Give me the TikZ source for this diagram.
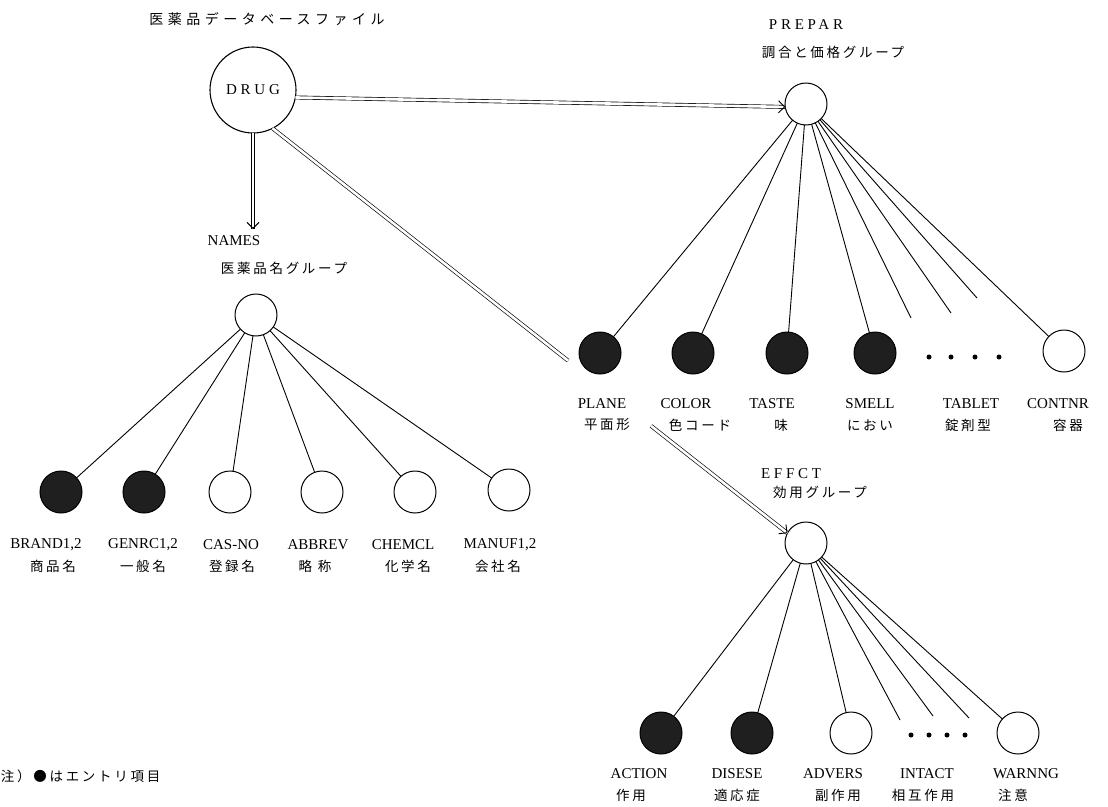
\documentclass[tikz,border=0pt]{standalone}
\usepackage{fontspec}
\setmainfont{Liberation Serif}
\newfontfamily\jpfont{Noto Sans CJK JP}
\usetikzlibrary{arrows.meta,calc}
\begin{document}
\begin{tikzpicture}[x=1pt,y=-1pt,
 every node/.style={inner sep=0pt, outer sep=0pt},
 bigc/.style={circle, draw, line width=1.1pt, minimum size=86pt},
 oc/.style={circle, draw, line width=1pt, minimum size=42pt},
 fc/.style={oc, fill=black!88},
 dotn/.style={circle, fill=black, minimum size=5pt},
 lat/.style={font=\fontsize{15}{15}\selectfont},
 spaced/.style={font=\fontsize{15}{15}\selectfont\addfontfeature{LetterSpace=25}},
 jpn/.style={font=\jpfont\fontsize{13.5}{13.5}\selectfont\addfontfeature{LetterSpace=20}},
 jpwide/.style={font=\jpfont\fontsize{14}{14}\selectfont\addfontfeature{LetterSpace=32}},
 ln/.style={line width=0.9pt},
 dbl/.style={double, double distance=2.6pt, line width=0.65pt},
 tip/.style={line width=0.9pt, -{Straight Barb[length=6pt,width=12pt]}}
]
\useasboundingbox (0,0) rectangle (1108,806);

% top level
\node[jpwide] (title) at (267,19) {医薬品データベースファイル};
\node[bigc, spaced] (DRUG) at (253,90) {DRUG};

% PREPAR group
\node[spaced] (prepT) at (806,25) {PREPAR};
\node[jpn] (prepJ) at (833,52) {調合と価格グループ};
\node[oc] (PREPAR) at (806,104) {};

% NAMES group
\node[lat] (namesT) at (234,241) {NAMES};
\node[jpn] (namesJ) at (284,268) {医薬品名グループ};
\node[oc] (NAMES) at (256,315) {};

% EFFCT group
\node[spaced] (effT) at (791,474) {EFFCT};
\node[jpn] (effJ) at (820,492) {効用グループ};
\node[oc] (EFFCT) at (806,543) {};

% NAMES children
\node[fc] (BRAND) at (61,492) {};
\node[fc] (GENRC) at (144,492) {};
\node[oc] (CAS) at (230,492) {};
\node[oc] (ABBREV) at (322,492) {};
\node[oc] (CHEMCL) at (415,492) {};
\node[oc] (MANUF) at (509,490) {};
\foreach \n/\x/\t in {BRAND/46/BRAND1{,}2, GENRC/143/GENRC1{,}2, CAS/231/CAS-NO, ABBREV/318/ABBREV, CHEMCL/403/CHEMCL, MANUF/500/MANUF1{,}2}
  \node[lat] (\n T) at (\x,545) {\t};
\foreach \n/\x/\t in {BRAND/53/商品名, GENRC/143/一般名, CAS/232/登録名, ABBREV/315/略\ 称, CHEMCL/408/化学名, MANUF/498/会社名}
  \node[jpn] (\n J) at (\x,566) {\t};
\foreach \n in {BRAND,GENRC,CAS,ABBREV,CHEMCL,MANUF}
  \draw[ln] (NAMES) -- (\n);

% PREPAR children
\node[fc] (PLANE) at (600,353) {};
\node[fc] (COLOR) at (693,353) {};
\node[fc] (TASTE) at (787,353) {};
\node[fc] (SMELL) at (875,353) {};
\node[oc] (CONTNR) at (1064,351) {};
\node[dotn] (pd1) at (929,357) {};
\node[dotn] (pd2) at (951,357) {};
\node[dotn] (pd3) at (975,357) {};
\node[dotn] (pd4) at (999,357) {};
\foreach \n/\x/\t in {PLANE/602/PLANE, COLOR/686/COLOR, TASTE/772/TASTE, SMELL/870/SMELL, TABLET/971/TABLET, CONTNR/1058/CONTNR}
  \node[lat] (\n T) at (\x,404) {\t};
\foreach \n/\x/\t in {PLANE/607/平面形, COLOR/700/色コード, TASTE/781/味, SMELL/870/におい, TABLET/968/錠剤型, CONTNR/1068/容器}
  \node[jpn] (\n J) at (\x,425) {\t};
\foreach \n in {PLANE,COLOR,TASTE,SMELL,CONTNR}
  \draw[ln] (PREPAR) -- (\n);
\coordinate (pe1) at (911,318);
\coordinate (pe2) at (951,313);
\coordinate (pe3) at (977,298);
\foreach \c in {pe1,pe2,pe3}
  \draw[ln] (PREPAR) -- (\c);

% EFFCT children
\node[fc] (ACTION) at (661,733) {};
\node[fc] (DISESE) at (752,733) {};
\node[oc] (ADVERS) at (851,733) {};
\node[oc] (WARNNG) at (1018,733) {};
\node[dotn] (ed1) at (911,735) {};
\node[dotn] (ed2) at (929,735) {};
\node[dotn] (ed3) at (947,735) {};
\node[dotn] (ed4) at (965,735) {};
\foreach \n/\x/\t in {ACTION/639/ACTION, DISESE/737/DISESE, ADVERS/833/ADVERS, INTACT/927/INTACT, WARNNG/1026/WARNNG}
  \node[lat] (\n T) at (\x,774) {\t};
\foreach \n/\x/\t in {ACTION/631/作用, DISESE/737/適応症, ADVERS/838/副作用, INTACT/923/相互作用, WARNNG/1013/注意}
  \node[jpn] (\n J) at (\x,795) {\t};
\foreach \n in {ACTION,DISESE,ADVERS,WARNNG}
  \draw[ln] (EFFCT) -- (\n);
\coordinate (ee1) at (900,720);
\coordinate (ee2) at (933,716);
\coordinate (ee3) at (969,718);
\foreach \c in {ee1,ee2,ee3}
  \draw[ln] (EFFCT) -- (\c);

% double connectors
\coordinate (hs) at (DRUG.-10);
\coordinate (he) at (PREPAR.188);
\draw[dbl] (hs) -- (he);
\draw[tip] ($(he)!1pt!(hs)$) -- (he);

\coordinate (ds) at (DRUG.south);
\coordinate (dn) at (253,229);
\draw[dbl] (ds) -- (dn);
\draw[tip] ($(dn)!1pt!(ds)$) -- (dn);

\coordinate (es) at (DRUG.-63);
\coordinate (ee) at (EFFCT.152);
\path (es) -- (ee) coordinate[pos=0.574] (g1) coordinate[pos=0.735] (g2);
\draw[dbl] (es) -- (g1);
\draw[dbl] (g2) -- (ee);
\draw[tip] ($(ee)!1pt!(g2)$) -- (ee);

% footnote
\node[jpn, anchor=west] (note) at (1,776) {注）●はエントリ項目};
\end{tikzpicture}
\end{document}
